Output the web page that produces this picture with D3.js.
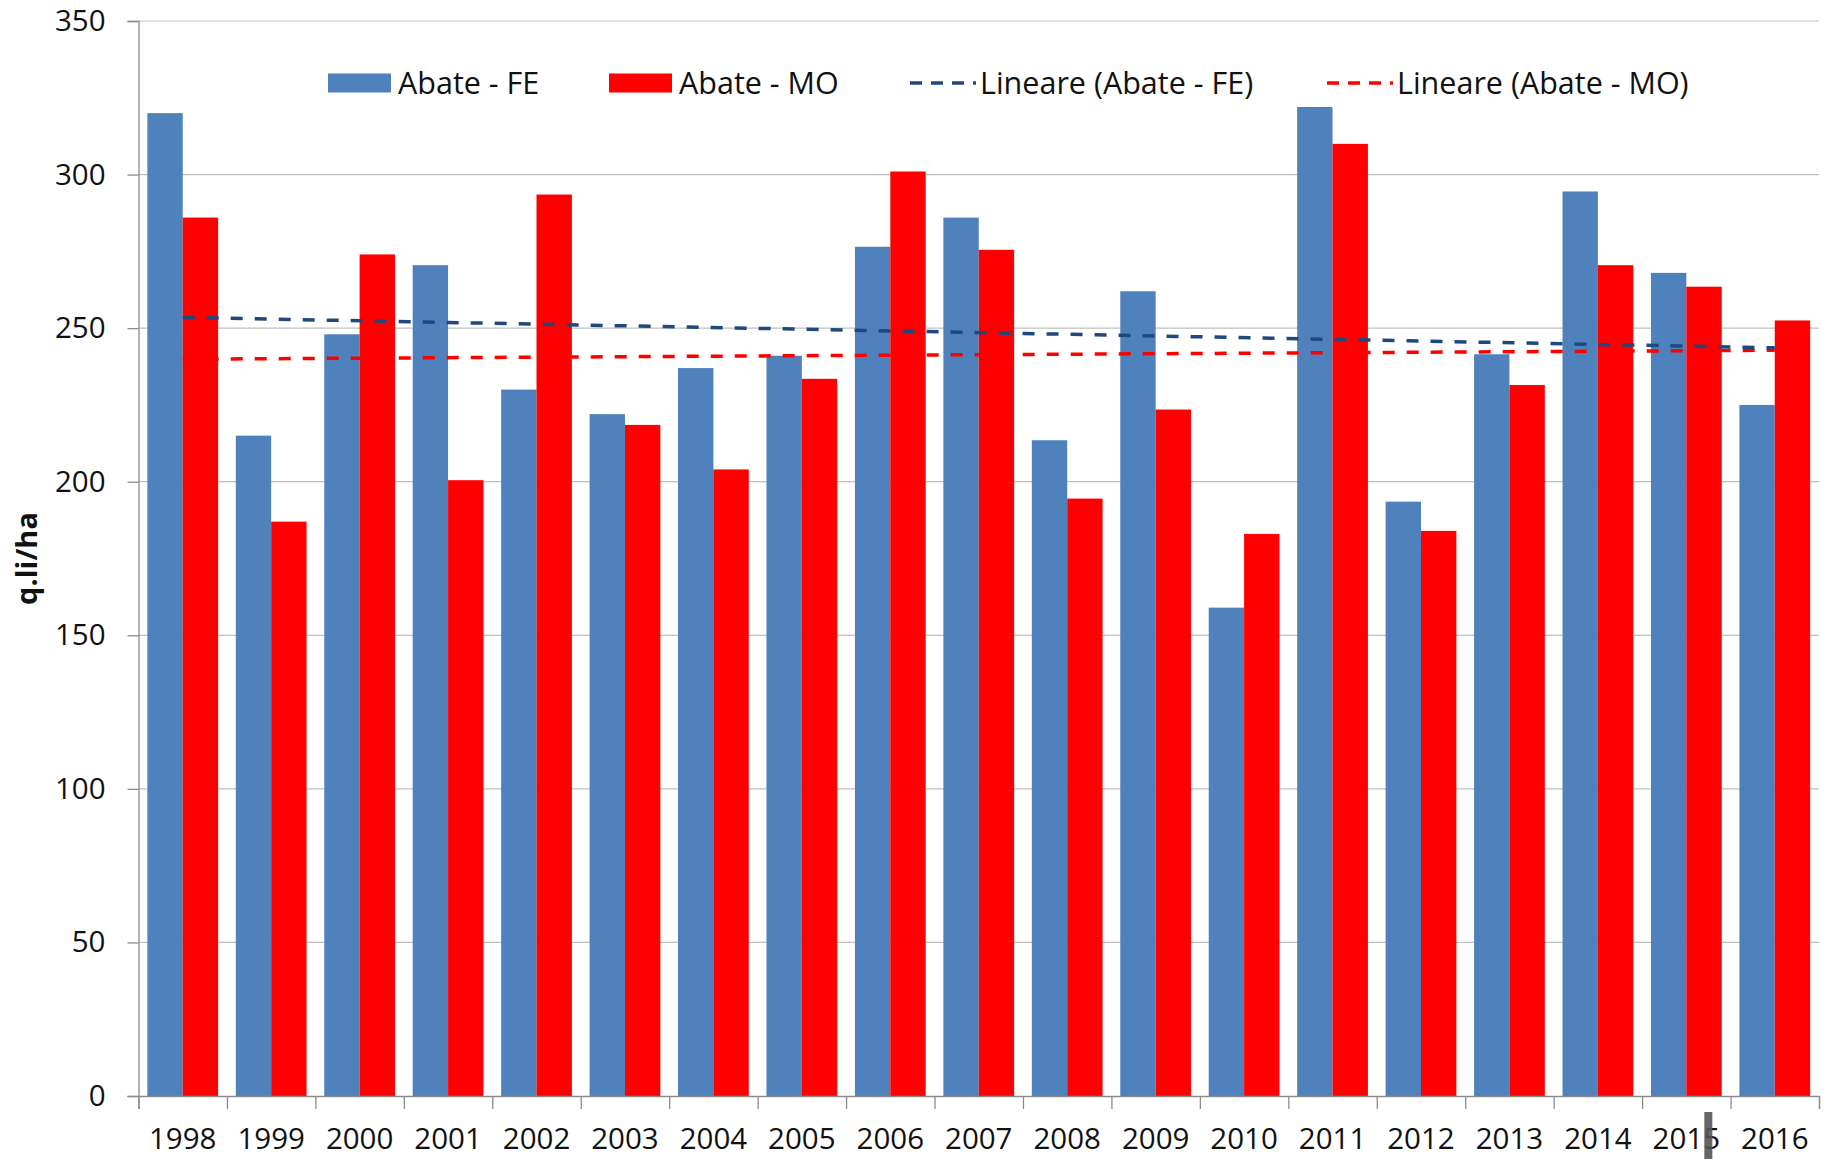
<!DOCTYPE html>
<html>
<head>
<meta charset="utf-8">
<script src="https://cdn.jsdelivr.net/npm/d3@7"></script>
<style>
  html, body { margin: 0; padding: 0; background: #fff; }
  svg { display: block; }
  text { font-family: "Open Sans", "Liberation Sans", sans-serif; fill: #111; }
</style>
</head>
<body>
<svg id="chart" width="1825" height="1159"></svg>
<script>
// ---- data ----
const years = ["1998","1999","2000","2001","2002","2003","2004","2005","2006","2007",
               "2008","2009","2010","2011","2012","2013","2014","2015","2016"];
const abateFE = [320, 215, 248, 270.5, 230, 222, 237, 241, 276.5, 286,
                 213.5, 262, 159, 322, 193.5, 241.5, 294.5, 268, 225];
const abateMO = [286, 187, 274, 200.5, 293.5, 218.5, 204, 233.5, 301, 275.5,
                 194.5, 223.5, 183, 310, 184, 231.5, 270.5, 263.5, 252.5];
// trend line endpoints
const trendYears = ["1998", "2016"];
const trendFE = [253.5, 243.6];
const trendMO = [239.9, 242.8];
const yTicks = [0, 50, 100, 150, 200, 250, 300, 350];
const seriesNames = ["Abate - FE", "Abate - MO"];
const legendLabels = ["Abate - FE", "Abate - MO", "Lineare (Abate - FE)", "Lineare (Abate - MO)"];

// ---- layout ----
const mLeft = 138.5, mRight = 1819, mTop = 21, mBottom = 1096;
const colFE = "#4F81BD", colMO = "#FF0000", colTrFE = "#1F497D", colTrMO = "#FF0000";

const svg = d3.select("#chart");
svg.append("rect").attr("width", 1825).attr("height", 1159).attr("fill", "#fff");

const x0 = d3.scaleBand().domain(years).range([mLeft, mRight]).paddingInner(0.2).paddingOuter(0.1);
const x1 = d3.scaleBand().domain(seriesNames).range([0, x0.bandwidth()]);
const xb = d3.scaleLinear().domain([0, years.length]).range([mLeft, mRight]);
const y = d3.scaleLinear().domain([0, 350]).range([mBottom, mTop]);

// gridlines
svg.append("g").selectAll("line").data(yTicks.filter(d => d > 0)).join("line")
  .attr("x1", mLeft).attr("x2", mRight)
  .attr("y1", d => y(d)).attr("y2", d => y(d))
  .attr("stroke", "#BFBFBF").attr("stroke-width", 1.2);

// y axis
const yAxis = svg.append("g").attr("transform", `translate(${mLeft},0)`)
  .call(d3.axisLeft(y).tickValues(yTicks).tickSize(11).tickPadding(22));
yAxis.select(".domain").attr("stroke", "#8C8C8C").attr("stroke-width", 1.3);
yAxis.selectAll(".tick line").attr("stroke", "#8C8C8C").attr("stroke-width", 1.3);
yAxis.selectAll(".tick text").style("font-family", '"Open Sans", sans-serif')
  .style("font-size", "29.5px").attr("fill", "#111");

// bars
const groups = svg.append("g").selectAll("g").data(years).join("g")
  .attr("transform", d => `translate(${x0(d)},0)`);
groups.append("rect")
  .attr("x", x1("Abate - FE")).attr("width", x1.bandwidth())
  .attr("y", (d, i) => y(abateFE[i])).attr("height", (d, i) => y(0) - y(abateFE[i]))
  .attr("fill", colFE);
groups.append("rect")
  .attr("x", x1("Abate - MO")).attr("width", x1.bandwidth())
  .attr("y", (d, i) => y(abateMO[i])).attr("height", (d, i) => y(0) - y(abateMO[i]))
  .attr("fill", colMO);

// x axis (category boundary ticks)
const xAxisTicks = svg.append("g").attr("transform", `translate(0,${mBottom})`)
  .call(d3.axisBottom(xb).tickValues(d3.range(years.length + 1)).tickSize(13).tickFormat(""));
xAxisTicks.select(".domain").attr("stroke", "#8C8C8C").attr("stroke-width", 1.3);
xAxisTicks.selectAll(".tick line").attr("stroke", "#8C8C8C").attr("stroke-width", 1.3);

const xAxisLabels = svg.append("g").attr("transform", `translate(0,${mBottom})`)
  .call(d3.axisBottom(x0).tickSize(0).tickPadding(32));
xAxisLabels.select(".domain").remove();
xAxisLabels.selectAll(".tick text").style("font-family", '"Open Sans", sans-serif')
  .style("font-size", "29.5px").attr("fill", "#111");

// trend lines
const line = d3.line().x(d => x0(d[0]) + x0.bandwidth() / 2).y(d => y(d[1]));
svg.append("path").datum(trendYears.map((t, i) => [t, trendMO[i]]))
  .attr("d", line).attr("fill", "none").attr("stroke", colTrMO)
  .attr("stroke-width", 3.5).attr("stroke-dasharray", "12,12");
svg.append("path").datum(trendYears.map((t, i) => [t, trendFE[i]]))
  .attr("d", line).attr("fill", "none").attr("stroke", colTrFE)
  .attr("stroke-width", 3.5).attr("stroke-dasharray", "12,12");

// y axis title
svg.append("text")
  .attr("transform", `translate(37,${(mTop + mBottom) / 2}) rotate(-90)`)
  .attr("text-anchor", "middle")
  .style("font-size", "29px").style("font-weight", "bold")
  .text("q.li/ha");

// legend
const legY = 83;
const legItems = [
  { label: legendLabels[0], type: "rect", color: colFE, x: 328 },
  { label: legendLabels[1], type: "rect", color: colMO, x: 609 },
  { label: legendLabels[2], type: "dash", color: colTrFE, x: 908 },
  { label: legendLabels[3], type: "dash", color: colTrMO, x: 1325 }
];
const leg = svg.append("g").selectAll("g").data(legItems).join("g")
  .attr("transform", d => `translate(${d.x},${legY})`);
leg.filter(d => d.type === "rect").append("rect")
  .attr("x", 0).attr("y", -9.5).attr("width", 63).attr("height", 19).attr("fill", d => d.color);
leg.filter(d => d.type === "dash").append("line")
  .attr("x1", 2).attr("x2", 68).attr("y1", 0).attr("y2", 0)
  .attr("stroke", d => d.color).attr("stroke-width", 3.5).attr("stroke-dasharray", "12,9");
leg.append("text")
  .attr("x", d => d.type === "rect" ? 70 : 72).attr("y", 0).attr("dy", "0.35em")
  .style("font-size", "30.5px")
  .text(d => d.label);

// cursor-like artifact over the 2015 label
svg.append("rect")
  .attr("x", x0("2015") + x0.bandwidth() / 2 + 18).attr("y", 1112)
  .attr("width", 8).attr("height", 47).attr("fill", "#555").attr("opacity", 0.9);
</script>
</body>
</html>
